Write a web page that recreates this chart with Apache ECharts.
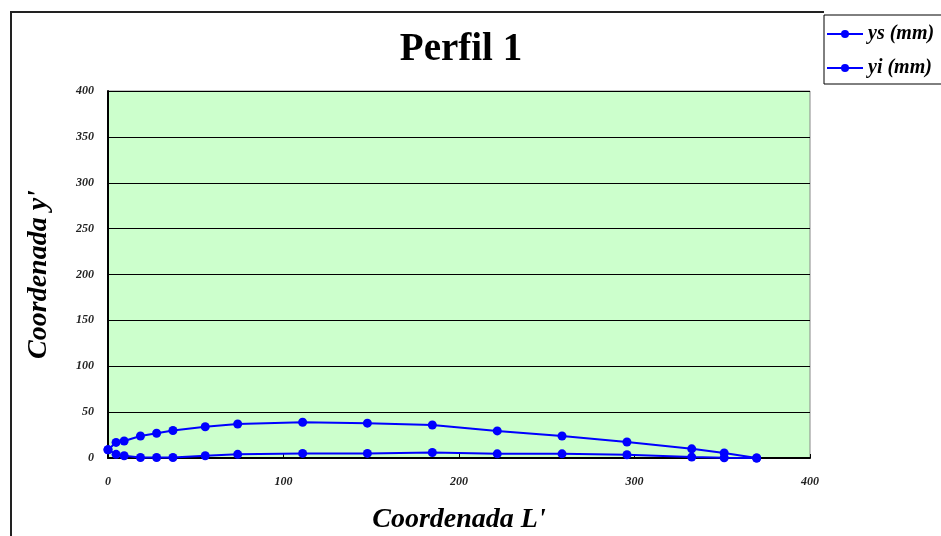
<!DOCTYPE html>
<html><head><meta charset="utf-8">
<script src="https://cdn.jsdelivr.net/npm/echarts@6/dist/echarts.min.js"></script>
<style>html,body{margin:0;padding:0;background:#fff}#c{width:941px;height:536px}</style>
</head><body><div id="c"></div>
<script>
var xL = [0, 4.6, 9.2, 18.5, 27.7, 37, 55.4, 73.9, 110.9, 147.8, 184.8, 221.8, 258.7, 295.7, 332.6, 351.1, 369.6];
var ys = [9, 17, 18.5, 24, 27, 30, 34, 37, 39, 38, 36, 29.5, 24, 17.5, 10, 5.5, 0];
var yi = [9, 4, 2.5, 0.5, 0.5, 0.5, 2.5, 4, 5, 5, 6, 4.5, 4.5, 3.5, 1, 0.3, 0];
var seriesNames = ['ys (mm)', 'yi (mm)'];
var title = 'Perfil 1';

function pairs(ysArr){ return xL.map(function(x,i){return [x, ysArr[i]];}); }
var serif = '"Liberation Serif","Times New Roman",serif';
var chart = echarts.init(document.getElementById('c'));
var mkSeries = function(name, arr){
  return {type:'line', name:name, data:pairs(arr), symbol:'circle', symbolSize:9,
    itemStyle:{color:'#0000ff'}, lineStyle:{color:'#0000ff', width:2}, animation:false};
};
chart.setOption({
  animation:false,
  title:{text:title, left:456, textAlign:'center', top:25, textStyle:{fontFamily:serif, fontSize:39, fontWeight:'bold', color:'#000'}},
  legend:{orient:'vertical', left:824, top:15, itemGap:14, itemWidth:36, itemHeight:10,
    borderColor:'#000', borderWidth:1, padding:[9,30,6,2],
    textStyle:{fontFamily:serif, fontSize:20, fontWeight:'bold', fontStyle:'italic', color:'#000'},
    data:seriesNames},
  grid:{left:108, right:131, top:91, bottom:78, containLabel:false, outerBoundsMode:'none',
    show:true, backgroundColor:'#ccffcc', borderColor:'#888', borderWidth:1},
  xAxis:{type:'value', min:0, max:400, interval:100,
    name:"Coordenada L'", nameLocation:'middle', nameGap:48,
    nameTextStyle:{fontFamily:serif, fontSize:28, fontWeight:'bold', fontStyle:'italic', color:'#000'},
    axisLine:{lineStyle:{color:'#000', width:2}},
    axisTick:{inside:true, length:4, lineStyle:{color:'#000'}},
    axisLabel:{fontFamily:serif, fontSize:12, fontWeight:'bold', fontStyle:'italic', color:'#222', margin:18},
    splitLine:{show:false}},
  yAxis:{type:'value', min:0, max:400, interval:50,
    name:"Coordenada y'", nameLocation:'middle', nameGap:55,
    nameTextStyle:{fontFamily:serif, fontSize:28, fontWeight:'bold', fontStyle:'italic', color:'#000'},
    axisLine:{show:true, lineStyle:{color:'#000', width:2}},
    axisTick:{show:true, inside:true, length:4, lineStyle:{color:'#000'}},
    axisLabel:{fontFamily:serif, fontSize:12, fontWeight:'bold', fontStyle:'italic', color:'#222', margin:14},
    splitLine:{lineStyle:{color:'#000', width:1}}},
  graphic:[
    {type:'polyline', shape:{points:[[11,540],[11,12],[824,12]]}, style:{stroke:'#222', lineWidth:2, fill:null}, silent:true}
  ],
  series:[mkSeries(seriesNames[0], ys), mkSeries(seriesNames[1], yi)]
});
</script></body></html>
